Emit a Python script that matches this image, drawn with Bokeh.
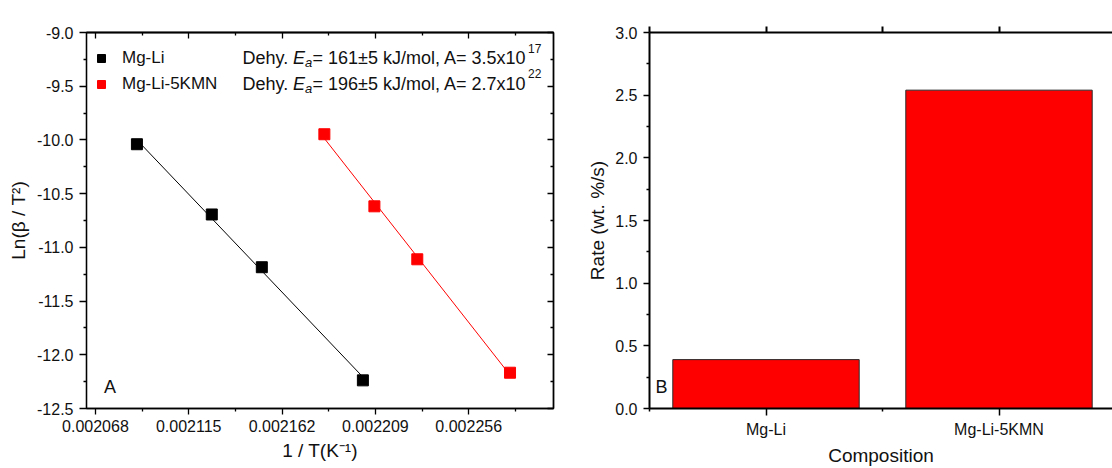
import numpy as np
from bokeh.plotting import figure
from bokeh.layouts import row
from bokeh.models import (Range1d, LinearAxis, FixedTicker, PrintfTickFormatter,
                          Legend, LegendItem, Label, ColumnDataSource)
from bokeh.embed import file_html
from bokeh.resources import INLINE

# ---------------- data ----------------
series_names = ["Mg-Li", "Mg-Li-5KMN"]
series_colors = ["#000000", "#FF0000"]
mgli_invT = [0.0020889, 0.0021266, 0.0021518, 0.0022027]
mgli_ln = [-10.04, -10.694, -11.185, -12.238]
kmn_invT = [0.0021833, 0.0022085, 0.0022301, 0.0022768]
kmn_ln = [-9.947, -10.618, -11.111, -12.167]
ea_values = ["161±5", "196±5"]
a_mantissa = ["3.5", "2.7"]
a_exponent = ["17", "22"]

x_tick_values = [0.002068, 0.002115, 0.002162, 0.002209, 0.002256]
y_tick_values_a = [-12.5, -12.0, -11.5, -11.0, -10.5, -10.0, -9.5, -9.0]

compositions = ["Mg-Li", "Mg-Li-5KMN"]
rates = [0.39, 2.54]
rate_ticks = [0.0, 0.5, 1.0, 1.5, 2.0, 2.5, 3.0]

FONT = "Liberation Sans"
TICK_FS = "16px"
TITLE_FS = "19px"
INK = "#111111"

# ---------------- panel A ----------------
X0, X1 = 0.0020635, 0.0022987
Y0, Y1 = -12.5, -9.0
FL, FW, FT, FH = 86, 467, 32, 377   # frame geometry (px) used to place annotations


def ax(px):
    return X0 + (px - FL) / FW * (X1 - X0)


def ay(py):
    return Y1 - (py - FT) / FH * (Y1 - Y0)


def tick_only_axis(ticks, tin, tout, lw):
    return LinearAxis(ticker=FixedTicker(ticks=[], minor_ticks=ticks),
                      major_label_standoff=0, major_tick_in=0, major_tick_out=0,
                      minor_tick_in=tin, minor_tick_out=tout,
                      axis_line_width=lw, minor_tick_line_width=lw)


p1 = figure(width=560, height=468, output_backend="svg", toolbar_location=None,
            x_range=Range1d(X0, X1), y_range=Range1d(Y0, Y1),
            min_border_left=86, min_border_right=7, min_border_top=32, min_border_bottom=59,
            x_axis_label="1 / T(K⁻¹)", y_axis_label="Ln(β / T²)")
p1.xgrid.visible = False
p1.ygrid.visible = False
p1.outline_line_color = "#000000"
p1.outline_line_width = 1.3
p1.background_fill_color = "white"
p1.border_fill_color = "white"

step_x = x_tick_values[1] - x_tick_values[0]
x_minor = [t + step_x / 2 for t in x_tick_values] + [x_tick_values[0] - step_x / 2]
y_minor_a = [t + 0.25 for t in y_tick_values_a[:-1]]

for a in p1.xaxis:
    a.ticker = FixedTicker(ticks=x_tick_values, minor_ticks=x_minor)
    a.formatter = PrintfTickFormatter(format="%.6f")
for a in p1.yaxis:
    a.ticker = FixedTicker(ticks=y_tick_values_a, minor_ticks=y_minor_a)
    a.formatter = PrintfTickFormatter(format="%.1f")

for a in list(p1.xaxis) + list(p1.yaxis):
    a.axis_line_width = 1.3
    a.major_tick_line_width = 1.3
    a.minor_tick_line_width = 1.3
    a.major_label_text_font = FONT
    a.major_label_text_font_size = TICK_FS
    a.major_label_text_color = INK
    a.axis_label_text_font = FONT
    a.axis_label_text_font_size = TITLE_FS
    a.axis_label_text_font_style = "normal"
    a.axis_label_text_color = INK
    a.major_tick_in = 0
    a.minor_tick_in = 0
    a.minor_tick_out = 3
p1.xaxis.major_tick_out = 6
p1.xaxis.major_label_standoff = 5
p1.xaxis.axis_label_standoff = 5
p1.yaxis.major_tick_out = 7
p1.yaxis.major_label_standoff = 6
p1.yaxis.axis_label_standoff = 5

p1.add_layout(tick_only_axis(x_tick_values, 6, 0, 1.3), "above")
p1.add_layout(tick_only_axis(x_minor, 3, 0, 1.3), "above")
p1.add_layout(tick_only_axis(y_tick_values_a, 6, 0, 1.3), "right")
p1.add_layout(tick_only_axis(y_minor_a, 3, 0, 1.3), "right")

items = []
for name, col, xs, ys in zip(series_names, series_colors, [mgli_invT, kmn_invT], [mgli_ln, kmn_ln]):
    k, b = np.polyfit(xs, ys, 1)
    fx = [xs[0], xs[-1]]
    p1.line(fx, [k * v + b for v in fx], line_color=col, line_width=1)
    r = p1.scatter(xs, ys, marker="square", size=11, fill_color=col, line_color=col)
    items.append(LegendItem(label=name, renderers=[r]))

legend = Legend(items=items, location=(5, 313), border_line_color=None,
                background_fill_alpha=0, label_text_font=FONT, label_text_font_size="17px",
                label_text_color=INK, glyph_width=20, glyph_height=22, spacing=4,
                padding=5, label_standoff=11, margin=0)
p1.add_layout(legend, "center")


def lab(px, py, text, size, **kw):
    return Label(x=ax(px), y=ay(py), text=text, text_font=FONT,
                 text_font_size=f"{size}px", text_color=INK, text_baseline="alphabetic", **kw)


for i in range(len(series_names)):
    base = 58.0 + 25.5 * i
    p1.add_layout(lab(242, base, "Dehy. ", 18))
    p1.add_layout(lab(292.5, base, "E", 18, text_font_style="italic"))
    p1.add_layout(lab(304.5, base + 4.3, "a", 13, text_font_style="italic"))
    p1.add_layout(lab(312, base, f"= {ea_values[i]} kJ/mol, A= {a_mantissa[i]}x10", 18))
    p1.add_layout(lab(527.5, base - 10, a_exponent[i], 12))

p1.add_layout(lab(103.6, 387.0, "A", 18))

# ---------------- panel B ----------------
positions = [i + 1 for i in range(len(compositions))]
BX0 = 0.5
BX1 = 0.5 + 463 / 233.0
p2 = figure(width=552, height=468, output_backend="svg", toolbar_location=None,
            x_range=Range1d(BX0, BX1), y_range=Range1d(0, 3.0),
            min_border_left=89, min_border_right=0, min_border_top=32, min_border_bottom=59,
            x_axis_label="Composition", y_axis_label="Rate (wt. %/s)")
p2.xgrid.visible = False
p2.ygrid.visible = False
p2.outline_line_color = None
p2.background_fill_color = "white"
p2.border_fill_color = "white"

src = ColumnDataSource(dict(x=positions, top=rates))
p2.vbar(x="x", top="top", width=0.8, source=src, fill_color="#FF0000",
        line_color="#2a2a2a", line_width=1)

cat_minor = [positions[0] - 0.5] + [p + 0.5 for p in positions]
for a in p2.xaxis:
    a.ticker = FixedTicker(ticks=positions, minor_ticks=cat_minor)
    a.major_label_overrides = {p: c for p, c in zip(positions, compositions)}
for a in p2.yaxis:
    a.ticker = FixedTicker(ticks=rate_ticks, minor_ticks=[t + 0.25 for t in rate_ticks[:-1]])
    a.formatter = PrintfTickFormatter(format="%.1f")
for a in list(p2.xaxis) + list(p2.yaxis):
    a.axis_line_width = 2
    a.major_tick_line_width = 1.5
    a.minor_tick_line_width = 1.5
    a.major_label_text_font = FONT
    a.major_label_text_font_size = TICK_FS
    a.major_label_text_color = INK
    a.axis_label_text_font = FONT
    a.axis_label_text_font_size = TITLE_FS
    a.axis_label_text_font_style = "normal"
    a.axis_label_text_color = INK
    a.major_tick_in = 0
    a.minor_tick_in = 0
    a.minor_tick_out = 3
p2.xaxis.major_tick_out = 7
p2.xaxis.major_label_standoff = 5
p2.xaxis.axis_label_standoff = 4
p2.yaxis.major_tick_out = 6
p2.yaxis.major_label_standoff = 6
p2.yaxis.axis_label_standoff = 4

p2.add_layout(tick_only_axis(positions + cat_minor, 0, 6, 2), "above")

p2.add_layout(Label(x=BX0 + 6 / 233.0, y=(409 - 387.5) / 377 * 3.0, text="B",
                    text_font=FONT, text_font_size="18px", text_color=INK,
                    text_baseline="alphabetic"))

layout = row(p1, p2)
open("out.html", "w").write(file_html(layout, INLINE))
